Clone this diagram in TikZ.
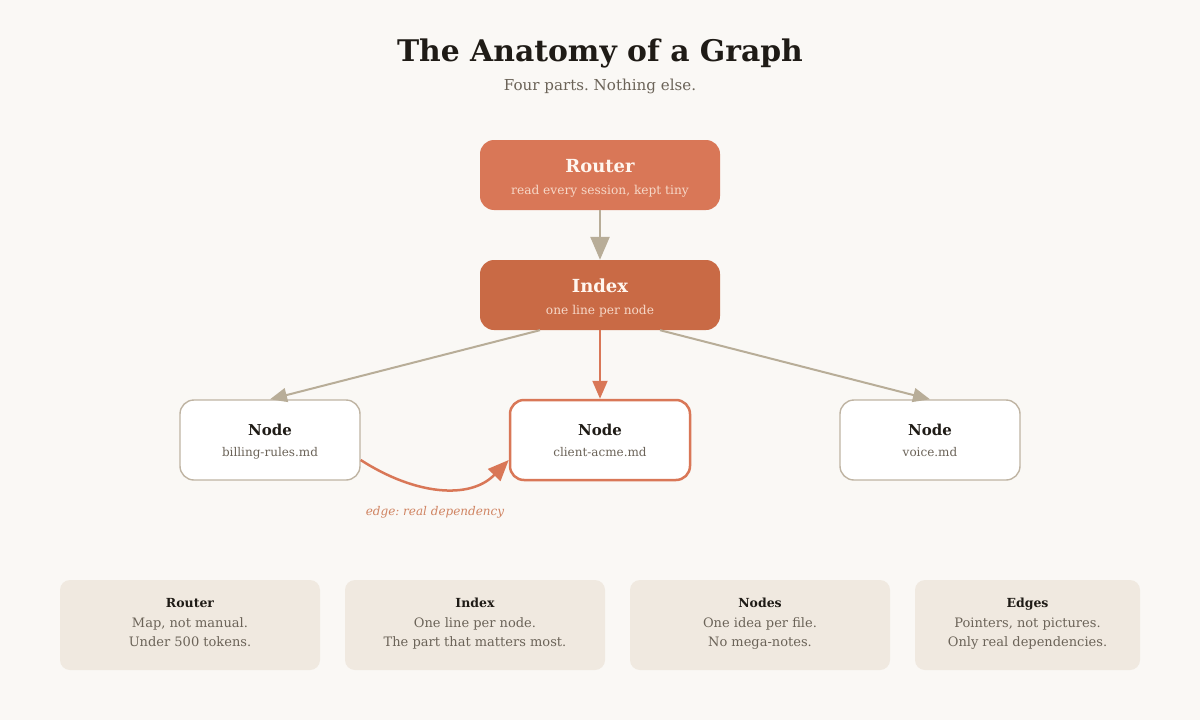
\documentclass[tikz,border=0pt]{standalone}
\usepackage{fontspec}
\setmainfont{DejaVu Serif}
\usetikzlibrary{arrows.meta}
\definecolor{bg}{HTML}{FAF8F5}
\definecolor{ink}{HTML}{1F1B16}
\definecolor{muted}{HTML}{6B6358}
\definecolor{routerfill}{HTML}{D97757}
\definecolor{indexfill}{HTML}{C96A45}
\definecolor{lighttext}{HTML}{FFF6EF}
\definecolor{subtext}{HTML}{F6D8C8}
\definecolor{arrowgray}{HTML}{B8AD98}
\definecolor{nodeline}{HTML}{BFB4A3}
\definecolor{accent}{HTML}{D97757}
\definecolor{cardfill}{HTML}{F0E9E0}
\definecolor{edgelabel}{HTML}{D08462}
\tikzset{
  fs/.style={font=\fontsize{#1}{#1}\selectfont\frenchspacing},
  bfs/.style={font=\fontsize{#1}{#1}\selectfont\bfseries\frenchspacing},
  ifs/.style={font=\fontsize{#1}{#1}\selectfont\itshape\frenchspacing},
  bigbox/.style={rounded corners=14pt, minimum width=240pt, minimum height=70pt, draw=none, inner sep=0pt},
  filebox/.style={rounded corners=14pt, minimum width=180pt, minimum height=80pt, fill=white, draw=nodeline, line width=1.4pt, inner sep=0pt},
  card/.style={rounded corners=10pt, minimum height=90pt, fill=cardfill, draw=none, inner sep=0pt},
  boxtitle/.style={anchor=base, bfs=18, text=lighttext},
  boxsub/.style={anchor=base, fs=12.2, text=subtext},
  nodetitle/.style={anchor=base, bfs=15, text=ink},
  nodesub/.style={anchor=base, fs=12, text=muted},
  cardtitle/.style={anchor=base, bfs=12.5, text=ink},
  cardline/.style={anchor=base, fs=13, text=muted},
  grayarrow/.style={draw=arrowgray, line width=2pt, -{Triangle[length=17pt, width=14pt]}},
  bigarrow/.style={draw=arrowgray, line width=2.5pt, -{Triangle[length=23pt, width=19pt]}},
  orangearrow/.style={draw=accent, line width=2pt, -{Triangle[length=18pt, width=15pt]}},
  curvearrow/.style={draw=accent, line width=2.5pt, -{Triangle[length=21pt, width=17pt]}},
}
\begin{document}
\begin{tikzpicture}[x=1pt, y=-1pt]
\fill[bg] (0,0) rectangle (1200,720);
\useasboundingbox (0,0) rectangle (1200,720);

\node[anchor=base, bfs=29.8, text=ink] (title) at (600,61) {The Anatomy of a Graph};
\node[anchor=base, fs=15.1, text=muted] (subtitle) at (600,90.5) {Four parts. Nothing else.};

% router and index
\node[bigbox, fill=routerfill] (router) at (600,175) {};
\node[boxtitle] (routerT) at (600,172.5) {Router};
\node[boxsub] (routerS) at (600,194) {read every session, kept tiny};

\node[bigbox, fill=indexfill] (index) at (600,295) {};
\node[boxtitle] (indexT) at (600,292.5) {Index};
\node[boxsub] (indexS) at (600,314) {one line per node};

% file nodes
\node[filebox] (bill) at (270,440) {};
\node[nodetitle] (billT) at (270,435.5) {Node};
\node[nodesub] (billS) at (270,456.5) {billing-rules.md};

\node[filebox, draw=accent, line width=2.5pt] (acme) at (600,440) {};
\node[nodetitle] (acmeT) at (600,435.5) {Node};
\node[nodesub] (acmeS) at (600,456.5) {client-acme.md};

\node[filebox] (voice) at (930,440) {};
\node[nodetitle] (voiceT) at (930,435.5) {Node};
\node[nodesub] (voiceS) at (930,456.5) {voice.md};

% connectors
\draw[bigarrow] (router.south) -- (index.north);
\draw[grayarrow] ([xshift=-60pt]index.south) -- (bill.north);
\draw[orangearrow] (index.south) -- (acme.north);
\draw[grayarrow] ([xshift=60pt]index.south) -- (voice.north);
\draw[curvearrow] ([yshift=-20pt]bill.east) .. controls (415,495) and (470,500) .. ([yshift=-20pt]acme.west);
\node[anchor=base, ifs=12, text=edgelabel] (edgeL) at (435,515) {edge: real dependency};

% cards
\node[card, minimum width=260pt] (c1) at (190,625) {};
\node[cardtitle] (c1T) at (190,607.5) {Router};
\node[cardline] (c1a) at (190,627.5) {Map, not manual.};
\node[cardline] (c1b) at (190,646) {Under 500 tokens.};

\node[card, minimum width=260pt] (c2) at (475,625) {};
\node[cardtitle] (c2T) at (475,607.5) {Index};
\node[cardline] (c2a) at (475,627.5) {One line per node.};
\node[cardline] (c2b) at (475,646) {The part that matters most.};

\node[card, minimum width=260pt] (c3) at (760,625) {};
\node[cardtitle] (c3T) at (760,607.5) {Nodes};
\node[cardline] (c3a) at (760,627.5) {One idea per file.};
\node[cardline] (c3b) at (760,646) {No mega-notes.};

\node[card, minimum width=225pt] (c4) at (1027.5,625) {};
\node[cardtitle] (c4T) at (1027.5,607.5) {Edges};
\node[cardline] (c4a) at (1027.5,627.5) {Pointers, not pictures.};
\node[cardline] (c4b) at (1027.5,646) {Only real dependencies.};
\end{tikzpicture}
\end{document}
